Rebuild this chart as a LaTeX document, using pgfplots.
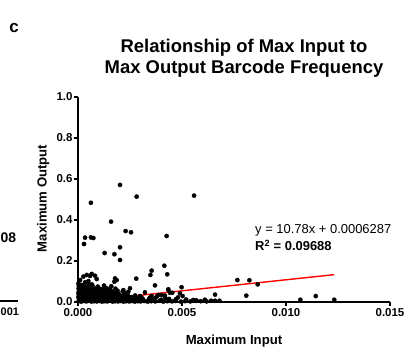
\documentclass[border=0pt]{standalone}
\usepackage{fontspec}
\setmainfont{Liberation Sans}
\usepackage{pgfplots}
\pgfplotsset{compat=1.18}
\usepackage{pgfplotstable}

\pgfplotstableread{
x y
0.00003 0.004
0.00015 0.002
0.00027 0.005
0.00040 0.003
0.00052 0.006
0.00065 0.002
0.00078 0.004
0.00090 0.003
0.00103 0.005
0.00116 0.002
0.00128 0.004
0.00141 0.003
0.00154 0.006
0.00167 0.002
0.00180 0.004
0.00193 0.003
0.00206 0.005
0.00219 0.002
0.00232 0.004
0.00246 0.003
0.00259 0.005
0.00273 0.002
0.00288 0.004
0.00301 0.003
0.00318 0.005
0.00335 0.002
0.00352 0.004
0.00371 0.003
0.00392 0.006
0.00410 0.002
0.00430 0.004
0.00452 0.003
0.00470 0.005
0.00495 0.002
0.00515 0.004
0.00540 0.003
0.00568 0.008
0.00590 0.004
0.00618 0.003
0.00640 0.006
0.00659 0.006
0.00680 0.006
0.00005 0.013
0.00018 0.015
0.00030 0.012
0.00043 0.016
0.00056 0.013
0.00068 0.014
0.00081 0.012
0.00094 0.016
0.00107 0.013
0.00120 0.015
0.00133 0.012
0.00146 0.014
0.00159 0.016
0.00172 0.013
0.00185 0.012
0.00198 0.015
0.00212 0.013
0.00226 0.016
0.00240 0.012
0.00256 0.014
0.00272 0.013
0.00290 0.011
0.00312 0.014
0.00340 0.012
0.00368 0.016
0.00400 0.011
0.00438 0.015
0.00470 0.013
0.00520 0.012
0.00554 0.010
0.00610 0.011
0.00002 0.024
0.00014 0.022
0.00026 0.026
0.00039 0.023
0.00051 0.025
0.00064 0.022
0.00077 0.026
0.00089 0.024
0.00102 0.022
0.00115 0.025
0.00128 0.023
0.00140 0.026
0.00153 0.022
0.00166 0.024
0.00180 0.025
0.00194 0.022
0.00208 0.026
0.00222 0.023
0.00238 0.021
0.00258 0.024
0.00280 0.020
0.00305 0.023
0.00345 0.021
0.00420 0.019
0.00480 0.022
0.00004 0.034
0.00016 0.032
0.00029 0.036
0.00041 0.033
0.00054 0.035
0.00066 0.032
0.00079 0.036
0.00092 0.033
0.00105 0.034
0.00118 0.032
0.00131 0.036
0.00144 0.033
0.00158 0.035
0.00172 0.032
0.00187 0.034
0.00202 0.031
0.00218 0.033
0.00240 0.030
0.00275 0.032
0.00002 0.044
0.00015 0.042
0.00027 0.046
0.00040 0.043
0.00053 0.045
0.00065 0.042
0.00078 0.046
0.00091 0.043
0.00104 0.044
0.00117 0.042
0.00130 0.045
0.00145 0.043
0.00160 0.041
0.00178 0.044
0.00195 0.040
0.00225 0.042
0.00005 0.055
0.00018 0.053
0.00030 0.057
0.00043 0.052
0.00057 0.056
0.00070 0.054
0.00083 0.058
0.00097 0.052
0.00112 0.055
0.00128 0.053
0.00145 0.057
0.00165 0.051
0.00190 0.055
0.00215 0.052
0.00003 0.066
0.00016 0.064
0.00030 0.069
0.00045 0.063
0.00060 0.067
0.00076 0.064
0.00092 0.068
0.00110 0.063
0.00130 0.066
0.00155 0.062
0.00180 0.065
0.00004 0.078
0.00018 0.082
0.00035 0.076
0.00052 0.084
0.00070 0.079
0.00095 0.075
0.00125 0.080
0.00160 0.077
0.00026 0.124
0.00042 0.132
0.00058 0.127
0.00082 0.128
0.00090 0.112
0.00018 0.083
0.00034 0.096
0.00066 0.086
0.00050 0.102
0.00010 0.107
0.00002 0.090
0.00066 0.137
0.00098 0.067
0.00114 0.062
0.00138 0.067
0.00154 0.058
0.00178 0.115
0.00186 0.107
0.00175 0.099
0.00218 0.058
0.00250 0.067
0.00242 0.050
0.00322 0.047
0.00298 0.029
0.00354 0.029
0.00378 0.026
0.00386 0.034
0.00402 0.034
0.00418 0.031
0.00453 0.045
0.00442 0.045
0.00434 0.059
0.00490 0.042
0.00503 0.029
0.00570 0.006
0.00659 0.036
0.00809 0.031
0.00766 0.107
0.00824 0.106
0.00864 0.086
0.01069 0.011
0.01143 0.029
0.01232 0.011
0.00498 0.072
0.00434 0.062
0.00370 0.081
0.00280 0.114
0.00348 0.132
0.00429 0.135
0.00354 0.153
0.00415 0.177
0.00202 0.205
0.00175 0.233
0.00128 0.239
0.00202 0.267
0.00029 0.283
0.00034 0.314
0.00062 0.315
0.00074 0.312
0.00426 0.322
0.00229 0.346
0.00255 0.340
0.00159 0.392
0.00062 0.484
0.00282 0.514
0.00558 0.519
0.00202 0.571
}\pts

\begin{document}
\begin{tikzpicture}[x=1bp,y=1bp]
\useasboundingbox (0,0) rectangle (406,354);
\begin{axis}[
  at={(78bp,52bp)}, anchor=south west,
  scale only axis, width=312bp, height=205bp,
  xmin=0, xmax=0.015, ymin=0, ymax=1.0,
  axis lines=left, axis line style={-, line width=1.2bp},
  clip=false,
  scaled x ticks=false, scaled y ticks=false,
  tick align=outside, major tick length=3.5bp,
  tick style={line width=1.1bp, black},
  xtick={0,0.005,0.01,0.015},
  xticklabels={0.000,0.005,0.010,0.015},
  ytick={0,0.2,0.4,0.6,0.8,1.0},
  yticklabels={0.0,0.2,0.4,0.6,0.8,1.0},
  xticklabel style={font=\fontsize{11.5}{13}\selectfont\bfseries, yshift=1bp},
  yticklabel style={font=\fontsize{11.5}{13}\selectfont\bfseries, xshift=1.5bp},
  minor tick num=0,
]
\addplot[red, line width=1.4bp] coordinates {(0,0.0006287) (0.01232,0.1334)};
\addplot[only marks, mark=*, mark size=2.1bp, black] table[x=x,y=y] {\pts};
\end{axis}
\node[font=\fontsize{17}{19}\selectfont\bfseries, anchor=base] at (14,322) {c};
\node[font=\fontsize{18.5}{21}\selectfont\bfseries, anchor=base] at (244,302) {Relationship of Max Input to};
\node[font=\fontsize{18.5}{21}\selectfont\bfseries, anchor=base] at (244,281) {Max Output Barcode Frequency};
\node[font=\fontsize{13.2}{15}\selectfont\bfseries, rotate=90, anchor=base] at (46.5,155.5) {Maximum Output};
\node[font=\fontsize{13.2}{15}\selectfont\bfseries, anchor=base] at (234,9.5) {Maximum Input};
\node[font=\fontsize{13}{15}\selectfont, anchor=base west, inner sep=0] at (255,120.5) {y = 10.78x + 0.0006287};
\node[font=\fontsize{13}{15}\selectfont\bfseries, anchor=base west, inner sep=0] at (255,103.5) {R\textsuperscript{2} = 0.09688};
\node[font=\fontsize{14}{16}\selectfont\bfseries, anchor=base west, inner sep=0] at (0.5,112) {08};
\draw[line width=1.1bp] (0,53) -- (18,53);
\node[font=\fontsize{11}{13}\selectfont\bfseries, anchor=base west, inner sep=0] at (0.5,39) {001};
\end{tikzpicture}
\end{document}
